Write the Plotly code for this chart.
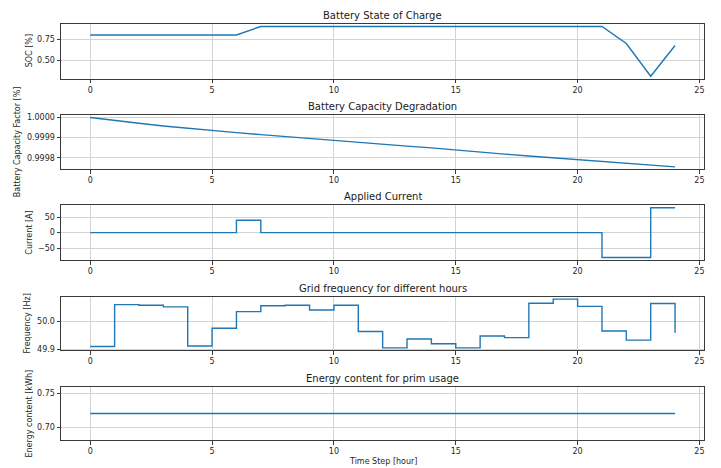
import plotly.graph_objects as go
from plotly.subplots import make_subplots

hours = list(range(25))

soc = [0.80, 0.80, 0.80, 0.80, 0.80, 0.80, 0.80,
       0.90, 0.90, 0.90, 0.90, 0.90, 0.90, 0.90, 0.90, 0.90, 0.90, 0.90, 0.90, 0.90, 0.90, 0.90,
       0.70, 0.316, 0.676]

capacity_factor = [1.000000, 0.999984, 0.999971, 0.999958, 0.999946, 0.999935,
                   0.999925, 0.999915, 0.999905, 0.999895, 0.999885, 0.999876,
                   0.999867, 0.999858, 0.999849, 0.999838, 0.999828, 0.999818,
                   0.999809, 0.999800, 0.999791, 0.999782, 0.999773, 0.999764,
                   0.999755]

current = [0, 0, 0, 0, 0, 0, 40, 0, 0, 0, 0, 0, 0, 0, 0, 0, 0, 0, 0, 0, 0,
           -80, -80, 80, 80]

frequency = [49.910, 50.061, 50.059, 50.053, 49.912, 49.976, 50.036, 50.057,
             50.059, 50.042, 50.059, 49.964, 49.905, 49.937, 49.920, 49.905,
             49.948, 49.942, 50.066, 50.081, 50.055, 49.966, 49.933, 50.065,
             49.960]

energy = [0.72] * 25

titles = ["Battery State of Charge", "Battery Capacity Degradation",
          "Applied Current", "Grid frequency for different hours",
          "Energy content for prim usage"]
ylabels = ["SOC [%]", "Battery Capacity Factor [%]", "Current [A]",
           "Frequency [Hz]", "Energy content [kWh]"]
xlabel = "Time Step [hour]"

W, H = 721, 468
LINE = "#1f77b4"
FONT = "DejaVu Sans"
TITLE_SIZE = 10
TICK_SIZE = 8

# pixel frames of each axes box (top, bottom)
frames = [(24.0, 78.7), (115.0, 169.3), (205.3, 260.0), (296.7, 350.3), (386.7, 440.3)]
x_left, x_right = 61.0, 704.3
ylabel_x = [29, 17, 30, 27, 29]

fig = make_subplots(rows=5, cols=1)

series = [(soc, "linear"), (capacity_factor, "linear"), (current, "hv"),
          (frequency, "hv"), (energy, "linear")]
for i, (vals, shape) in enumerate(series, start=1):
    fig.add_trace(go.Scatter(x=hours, y=vals, mode="lines",
                             line=dict(color=LINE, width=1.4, shape=shape),
                             showlegend=False), row=i, col=1)

yaxis_cfg = [
    dict(range=[0.287, 0.929], tickvals=[0.50, 0.75], tickformat=".2f"),
    dict(range=[0.9997428, 1.0000123], tickvals=[0.9998, 0.9999, 1.0], tickformat=".4f"),
    dict(range=[-88, 88], tickvals=[-50, 0, 50], tickformat="d"),
    dict(range=[49.8962, 50.0898], tickvals=[49.9, 50.0], tickformat=".1f"),
    dict(range=[0.6804, 0.7596], tickvals=[0.70, 0.75], tickformat=".2f"),
]

axis_common = dict(showline=True, linecolor="#3a3a3a", linewidth=1, mirror=True,
                   ticks="outside", ticklen=3.5, tickwidth=0.8, tickcolor="#3a3a3a",
                   showgrid=True, gridcolor="#d3d3d3", gridwidth=1, zeroline=False,
                   tickfont=dict(family=FONT, size=TICK_SIZE, color="#262626"),
                   automargin=False)

annotations = []
for i, (top, bot) in enumerate(frames, start=1):
    ydom = [1 - bot / H, 1 - top / H]
    fig.update_xaxes(row=i, col=1, domain=[x_left / W, x_right / W],
                     range=[-1.2, 25.2], tickvals=[0, 5, 10, 15, 20, 25],
                     anchor=f"y{'' if i == 1 else i}", **axis_common)
    fig.update_yaxes(row=i, col=1, domain=ydom, **yaxis_cfg[i - 1], **axis_common)
    annotations.append(dict(text=titles[i - 1], xref="paper", yref="paper",
                            x=(x_left + x_right) / 2 / W, y=1 - top / H,
                            xanchor="center", yanchor="middle", yshift=8.5,
                            showarrow=False,
                            font=dict(family=FONT, size=TITLE_SIZE, color="#1a1a1a")))
    annotations.append(dict(text=ylabels[i - 1], xref="paper", yref="paper",
                            x=ylabel_x[i - 1] / W, y=1 - (top + bot) / 2 / H,
                            xanchor="center", yanchor="middle", textangle=-90,
                            showarrow=False,
                            font=dict(family=FONT, size=TICK_SIZE, color="#262626")))

annotations.append(dict(text=xlabel, xref="paper", yref="paper",
                        x=(x_left + x_right) / 2 / W, y=1 - 461.5 / H,
                        xanchor="center", yanchor="middle", showarrow=False,
                        font=dict(family=FONT, size=TICK_SIZE, color="#262626")))

fig.update_layout(width=W, height=H, margin=dict(l=0, r=0, t=0, b=0),
                  paper_bgcolor="white", plot_bgcolor="white",
                  annotations=annotations, font=dict(family=FONT))

fig.write_html("out.html")
